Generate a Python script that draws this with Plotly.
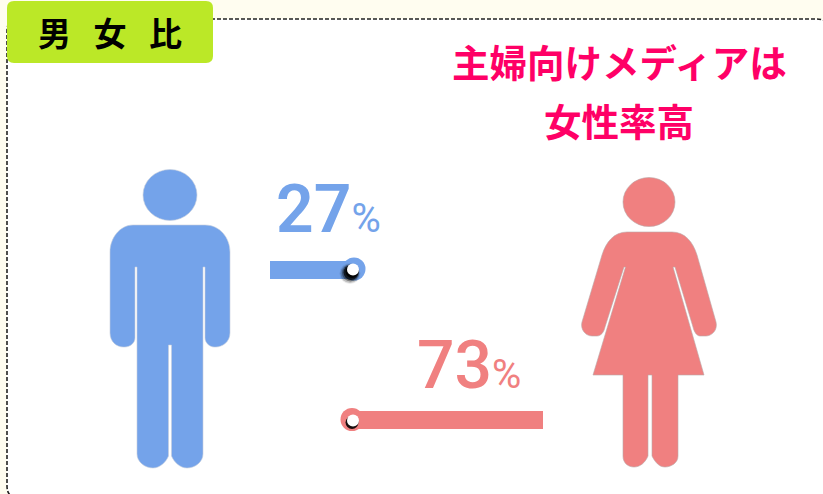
import plotly.graph_objects as go

# ---- data ----
categories = ["男性", "女性"]
shares = [27, 73]
series_colors = ["#74A3EA", "#F08080"]
tab_label = "男\u00a0\u00a0\u00a0女\u00a0\u00a0\u00a0比"
headline = ["主婦向けメディアは", "女性率高"]

W, H = 823, 494
CREAM = "#FFFDF0"
JP = "Noto Sans CJK JP"
NUM = "Roboto"

MAN = ("M133,225 L205,225 C220,225 230,238 230,252 L230,333 C230,342 222,347 216,347 L214,347 "
       "C210,347 205,343 205,338 L205,267 L203,267 L203,454 C203,462 195,468 187,468 "
       "C180,468 174,462 171.5,456 L171.5,345 L168.5,345 L168.5,456 C166,462 160,468 153,468 "
       "C145,468 137,462 137,454 L137,267 L135,267 L135,338 C135,343 130,347 125,347 L123,347 "
       "C117,347 110,342 110,333 L110,252 C110,238 120,225 133,225 Z")
WOMAN = ("M627,232 L672,232 C685,232 693,242 697,255 L716,322 C718,331 711,336 706,336 L700,336 "
         "C697,336 694,332 693,327 L675,267 L673,267 L704,375 L678,375 L678,456 C678,463 671,467 665,467 "
         "C659,467 655,462 652,456 L652,375 L648,375 L648,456 C645,463 640,467 634,467 "
         "C628,467 623,463 623,456 L623,375 L593,375 L625.5,267 L624,267 L605,327 "
         "C604,332 601,336 597,336 L592,336 C586,336 580,330 582,322 L602,255 C606,242 614,232 627,232 Z")


def rrect(x0, y0, x1, y1, r):
    return (f"M{x0+r},{y0} L{x1-r},{y0} Q{x1},{y0} {x1},{y0+r} L{x1},{y1-r} Q{x1},{y1} {x1-r},{y1} "
            f"L{x0+r},{y1} Q{x0},{y1} {x0},{y1-r} L{x0},{y0+r} Q{x0},{y0} {x0+r},{y0} Z")


fig = go.Figure()

# bars: each has its own value axis; the female one grows from the right
bar_specs = [
    dict(i=0, axis="x2", y=270, ring_y=269, px_per=84 / shares[0], dot=(-1, 0.5)),
    dict(i=1, axis="x3", y=420, ring_y=419.5, px_per=-191 / shares[1], dot=(1, 1)),
]
for s in bar_specs:
    v, c = shares[s["i"]], series_colors[s["i"]]
    fig.add_trace(go.Bar(x=[v], y=[s["y"]], width=[18], orientation="h", marker=dict(color=c, line_width=0),
                         xaxis=s["axis"], yaxis="y", name=categories[s["i"]], showlegend=False, hoverinfo="skip"))
    fig.add_trace(go.Scatter(x=[v], y=[s["ring_y"]], mode="markers", xaxis=s["axis"], yaxis="y", cliponaxis=False,
                             marker=dict(size=23, color=c, line_width=0), showlegend=False, hoverinfo="skip"))
    # soft shadow under the white dot
    for size, alpha, dx, dy in [(21, .08, -3, 4), (19, .18, -3, 4), (17, .35, -2.5, 3.5), (15, .7, -2, 3), (13, .9, -1, 2)]:
        fig.add_trace(go.Scatter(x=[v + (s["dot"][0] + dx) / s["px_per"]], y=[s["ring_y"] + s["dot"][1] + dy],
                                 mode="markers", xaxis=s["axis"], yaxis="y", cliponaxis=False,
                                 marker=dict(size=size, color=f"rgba(0,0,0,{alpha})", line_width=0),
                                 showlegend=False, hoverinfo="skip"))
    fig.add_trace(go.Scatter(x=[v + s["dot"][0] / s["px_per"]], y=[s["ring_y"] + s["dot"][1]], mode="markers",
                             xaxis=s["axis"], yaxis="y", cliponaxis=False,
                             marker=dict(size=12, color="white", line_width=0), showlegend=False, hoverinfo="skip"))

shapes = [
    dict(type="path", path=rrect(7, 19, 829, 498, 12), fillcolor="white",
         line=dict(color="#222222", width=1.6, dash="4px,2px"), layer="below"),
    dict(type="path", path=rrect(7, 1, 213, 63, 7), fillcolor="#BBE827", line_width=0, layer="below"),
    dict(type="path", path=MAN, fillcolor=series_colors[0], line=dict(color="#C6CFDC", width=0.6), layer="below"),
    dict(type="circle", x0=143, x1=197, y0=169.5, y1=220.5, fillcolor=series_colors[0],
         line=dict(color="#C6CFDC", width=0.6), layer="below"),
    dict(type="path", path=WOMAN, fillcolor=series_colors[1], line=dict(color="#B8A8A8", width=0.6), layer="below"),
    dict(type="circle", x0=623, x1=675, y0=177.5, y1=226.5, fillcolor=series_colors[1],
         line=dict(color="#B8A8A8", width=0.6), layer="below"),
]

def note(x, y, text, size, color, weight="normal", family=JP):
    return dict(x=x, y=y, xref="x", yref="y", text=text, showarrow=False, xanchor="center", yanchor="middle",
                font=dict(size=size, color=color, family=family, weight=weight))

PCT = '<span style="font-size:40px;font-weight:400">%</span>'
annotations = [
    note(110, 32, tab_label, 33, "#000000", "bold"),
    note(619, 60, headline[0], 37.5, "#FF0066", "bold"),
    note(619, 119, headline[1], 37.5, "#FF0066", "bold"),
    note(328.5, 209, f"{shares[0]}{PCT}", 66, series_colors[0], 600, NUM),
    note(468.5, 365, f"{shares[1]}{PCT}", 66, series_colors[1], 500, NUM),
]

hidden = dict(visible=False, fixedrange=True)
fig.update_layout(
    width=W, height=H, margin=dict(l=0, r=0, t=0, b=0), autosize=False,
    paper_bgcolor=CREAM, plot_bgcolor="rgba(0,0,0,0)", showlegend=False, barmode="overlay",
    xaxis=dict(range=[0, W], domain=[0, 1], **hidden),
    yaxis=dict(range=[H, 0], domain=[0, 1], **hidden),
    xaxis2=dict(range=[0, shares[0]], domain=[270 / W, 354 / W], anchor="y", **hidden),
    xaxis3=dict(range=[shares[1], 0], domain=[352 / W, 543 / W], anchor="y", **hidden),
    shapes=shapes, annotations=annotations,
)
# keep the pixel axes active
fig.add_trace(go.Scatter(x=[None], y=[None], xaxis="x", yaxis="y", showlegend=False, hoverinfo="skip"))

fig.write_html("out.html", config={"displayModeBar": False},
               post_script="document.body.style.margin='0';document.body.style.background='#FFFDF0';")
